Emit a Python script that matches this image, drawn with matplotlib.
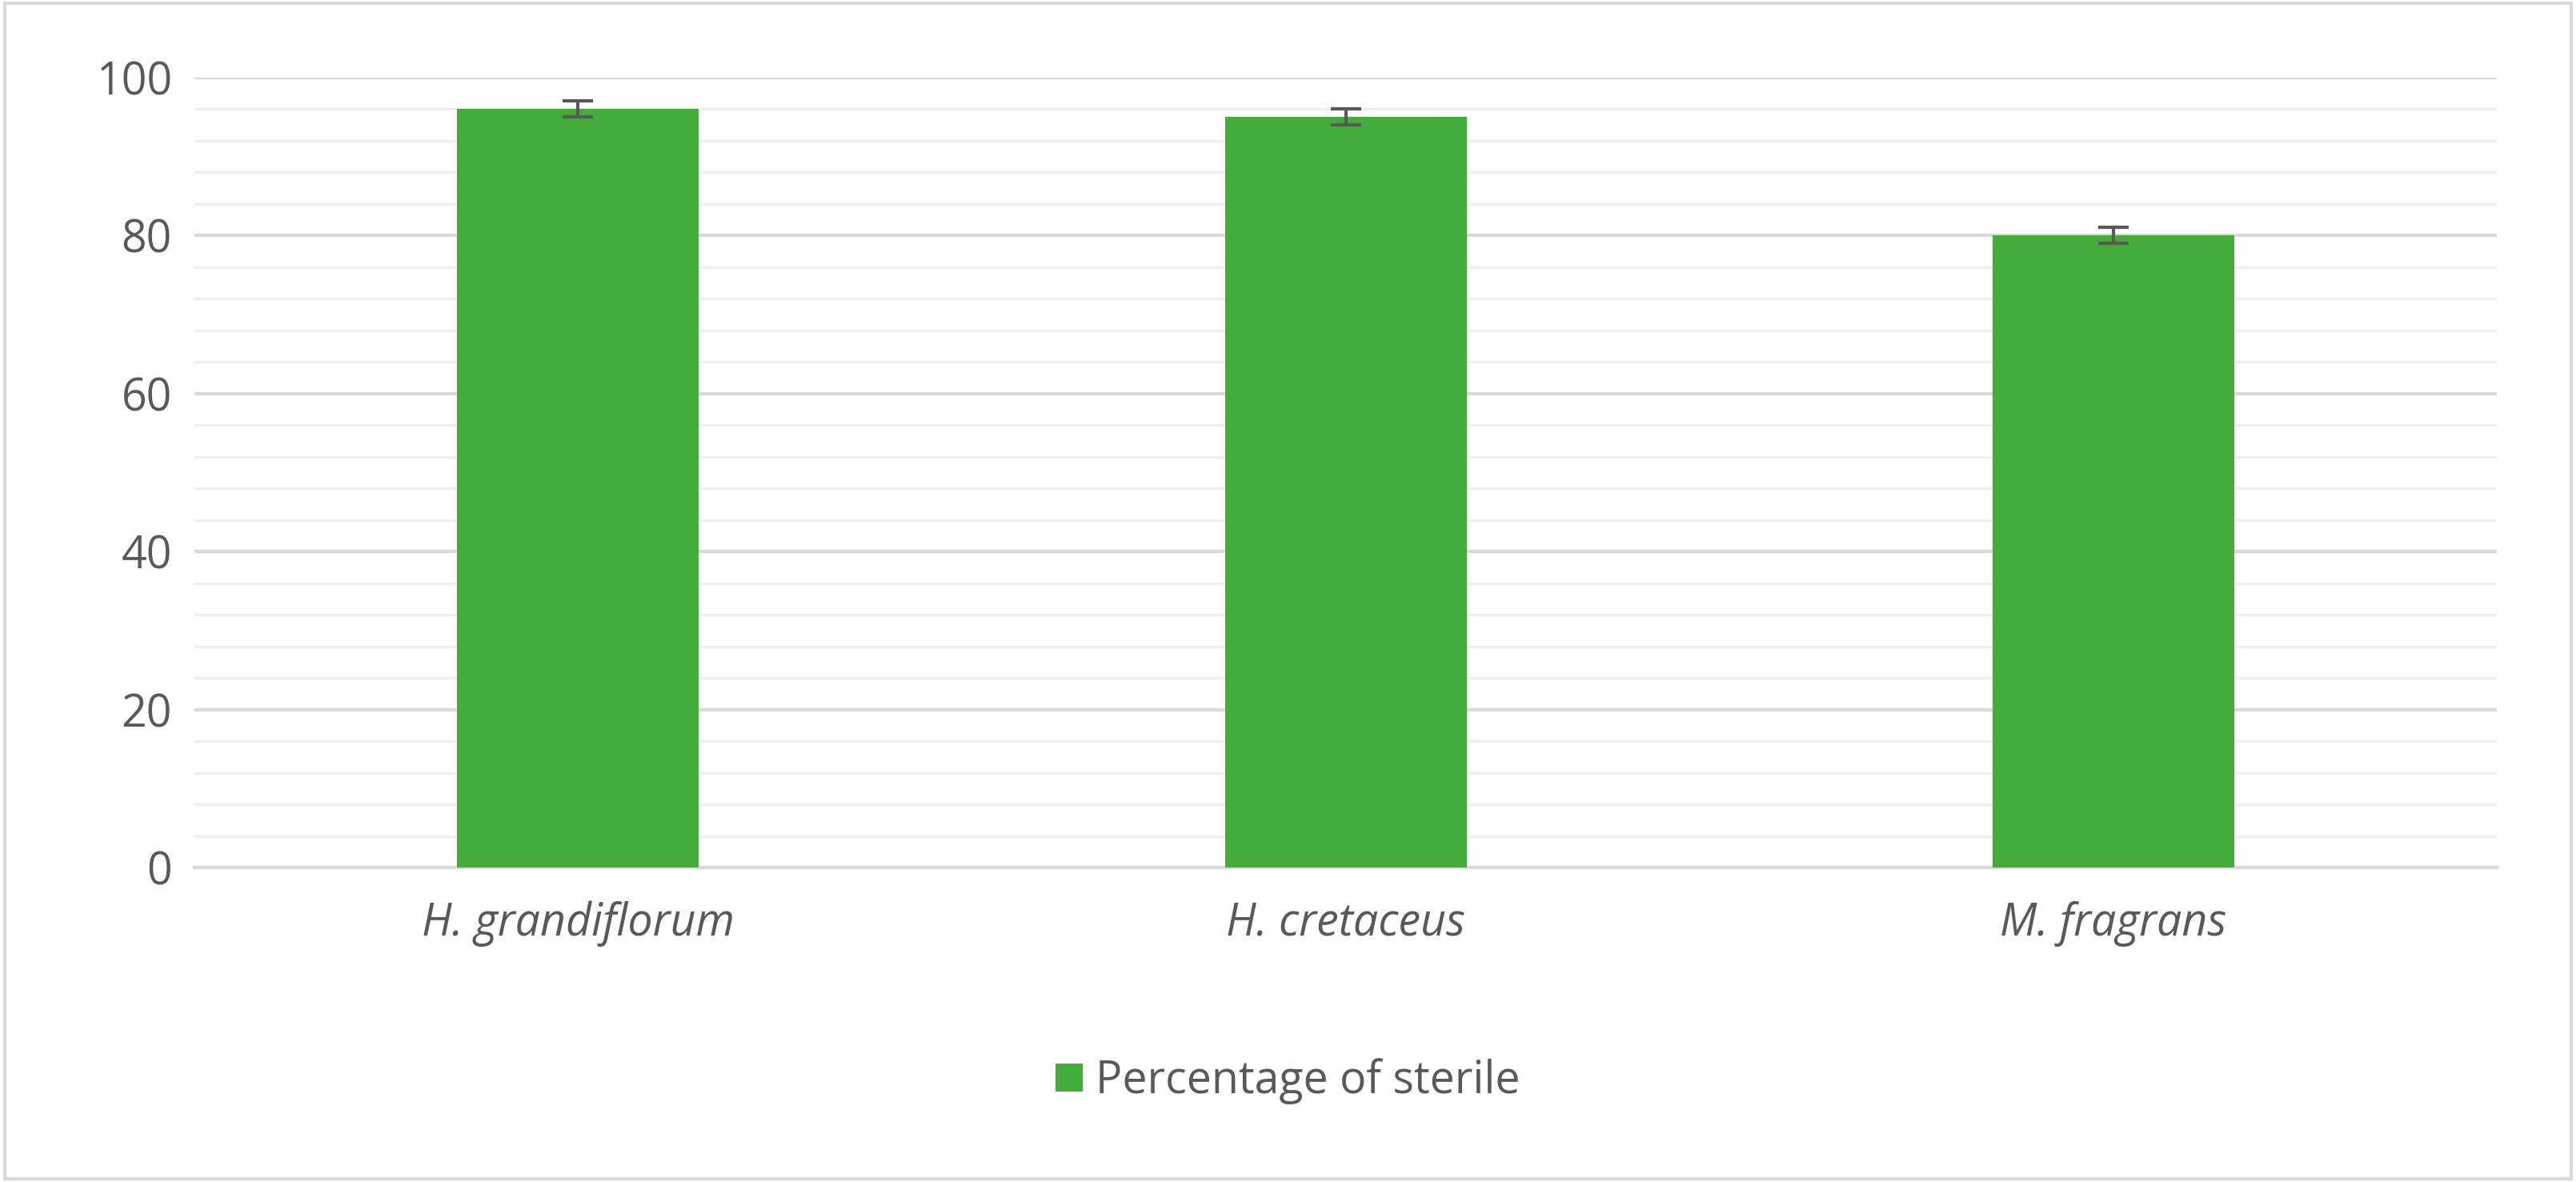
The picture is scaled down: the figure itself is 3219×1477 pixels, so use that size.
import matplotlib.pyplot as plt
import numpy as np
from matplotlib.patches import Rectangle

species = ["H. grandiflorum", "H. cretaceus", "M. fragrans"]
sterile = [96, 95, 80]
errors = [1, 1, 1]

plt.rcParams['font.family'] = ['Open Sans', 'DejaVu Sans']

fig = plt.figure(figsize=(32.19, 14.77), dpi=100)
ax = fig.add_axes([0.0754, 0.266, 0.894, 0.6685])

x = np.arange(len(species))
ax.bar(x, sterile, width=0.315, color='#43AC3A', zorder=3, label='Percentage of sterile')
ax.errorbar(x, sterile, yerr=errors, fmt='none', ecolor='#595959', elinewidth=3,
            capsize=14, capthick=3, zorder=4)

ax.set_ylim(0, 100)
ax.set_xlim(-0.5, 2.5)
ax.set_yticks(range(0, 101, 20))
ax.set_yticks(range(0, 101, 4), minor=True)
ax.grid(axis='y', which='major', color='#D9D9D9', linewidth=3, zorder=0)
ax.grid(axis='y', which='minor', color='#EFEFEF', linewidth=2.5, zorder=0)
ax.set_xticks(x)
ax.set_xticklabels(species, fontstyle='italic')
ax.tick_params(axis='both', which='both', length=0, labelsize=40, labelcolor='#595959')
ax.tick_params(axis='x', pad=30)
ax.tick_params(axis='y', pad=20)
for s in ['top', 'right', 'left']:
    ax.spines[s].set_visible(False)
ax.spines['bottom'].set_color('#D9D9D9')
ax.spines['bottom'].set_linewidth(3)

leg = fig.legend(loc='center', bbox_to_anchor=(0.5, 0.085), frameon=False, fontsize=40,
                 handlelength=0.6, handleheight=0.6, handletextpad=0.3)
for t in leg.get_texts():
    t.set_color('#595959')

fig.patches.append(Rectangle((0.002, 0.003), 0.996, 0.994, transform=fig.transFigure,
                             fill=False, edgecolor='#D9D9D9', linewidth=3))

fig.savefig('out.png', dpi=100)
